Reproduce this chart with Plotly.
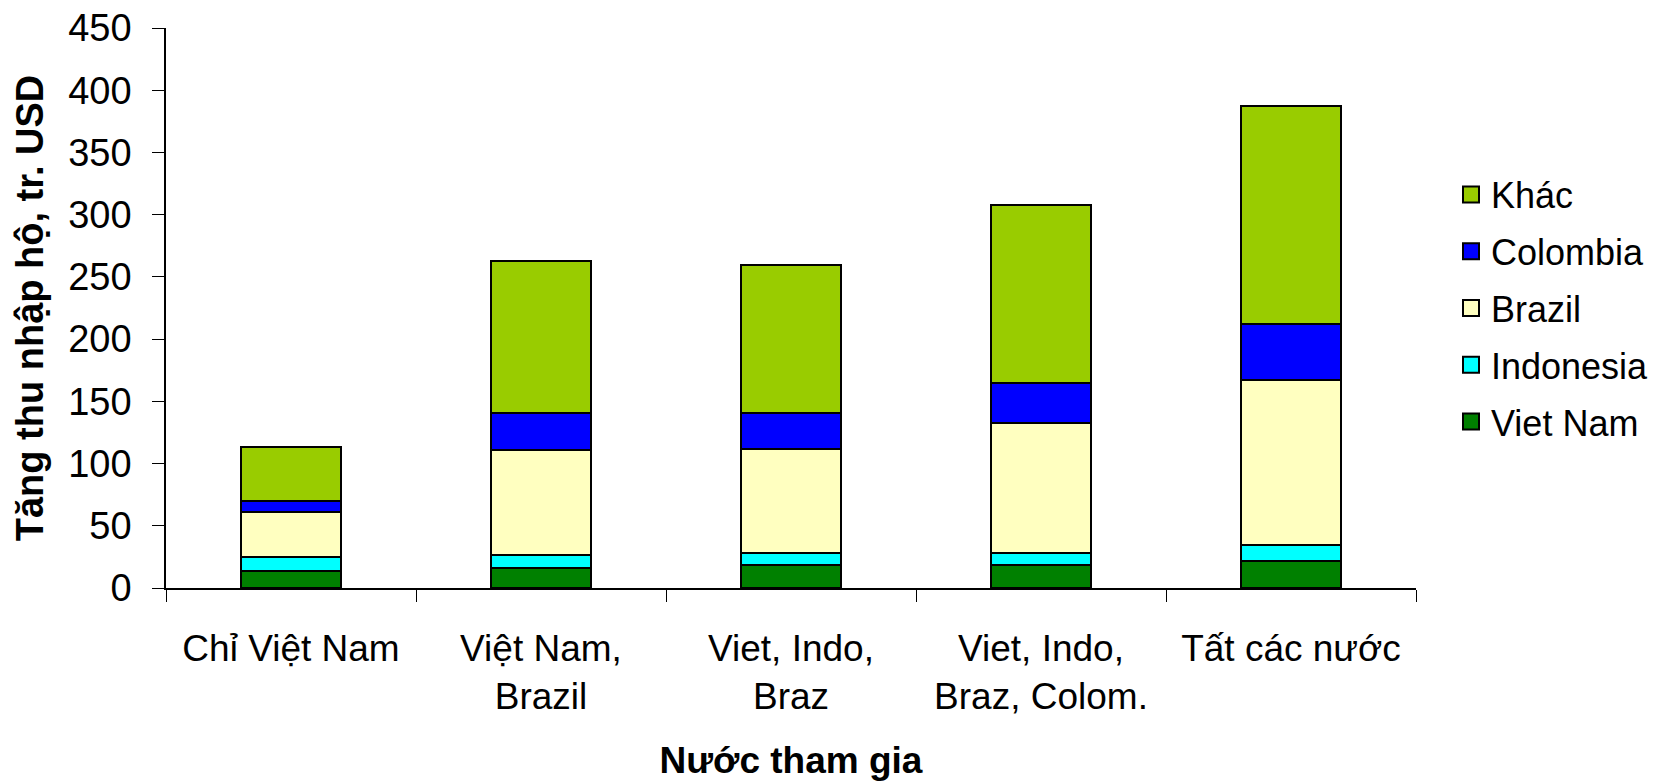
import plotly.graph_objects as go

categories = ["Chỉ Việt Nam", "Việt Nam,<br>Brazil", "Viet, Indo,<br>Braz",
              "Viet, Indo,<br>Braz, Colom.", "Tất các nước"]
viet_nam = [14, 16, 18.5, 18.5, 22]
indonesia = [11, 10.5, 10, 10, 12.5]
brazil = [36, 84, 83.5, 104, 132.5]
colombia = [9, 30, 28.7, 32.5, 45]
khac = [43, 122.5, 118.5, 143, 175.5]

series_names = ["Viet Nam", "Indonesia", "Brazil", "Colombia", "Khác"]
series_values = [viet_nam, indonesia, brazil, colombia, khac]
series_colors = ["#008000", "#00FFFF", "#FFFFC0", "#0000FF", "#99CC00"]

y_ticks = [0, 50, 100, 150, 200, 250, 300, 350, 400, 450]

FONT = "Arial, Liberation Sans, sans-serif"

fig = go.Figure()
for name, vals, col in zip(series_names, series_values, series_colors):
    fig.add_trace(go.Bar(
        x=categories, y=vals, name=name, showlegend=False,
        marker=dict(color=col, line=dict(color="black", width=2)),
    ))
# legend entries with square swatches (top entry = top segment)
for name, col in reversed(list(zip(series_names, series_colors))):
    fig.add_trace(go.Scatter(
        x=[None], y=[None], mode="markers", name=name, legendgroup=name,
        marker=dict(symbol="square", size=22, color=col,
                    line=dict(color="black", width=2)),
    ))

fig.update_layout(
    width=1648, height=773,
    barmode="stack", bargap=0.6,
    plot_bgcolor="white", paper_bgcolor="white",
    margin=dict(l=158, r=240, t=20, b=193, autoexpand=False),
    font=dict(family=FONT, size=37, color="black"),
    legend=dict(x=1.028, y=0.50, xanchor="left", yanchor="middle",
                traceorder="grouped", tracegroupgap=7,
                font=dict(size=36), itemsizing="trace",
                bgcolor="rgba(0,0,0,0)"),
    xaxis=dict(
        automargin=False,
        showline=True, linecolor="black", linewidth=1.5,
        ticks="outside", tickson="boundaries", ticklen=12, tickcolor="black",
        tickfont=dict(size=37), ticklabelstandoff=27,
        title=dict(text="<b>Nước tham gia</b>", font=dict(size=37), standoff=39),
    ),
    yaxis=dict(
        automargin=False, ticklabeloverflow="allow",
        range=[0, 450], tickvals=y_ticks, showgrid=False, zeroline=False,
        showline=True, linecolor="black", linewidth=1.5,
        ticks="outside", ticklen=12, tickcolor="black",
        tickfont=dict(size=38), ticklabelstandoff=13,
        title=dict(text="<b>Tăng thu nhập hộ, tr. USD</b>", font=dict(size=38), standoff=13),
    ),
)

fig.write_html("out.html")
